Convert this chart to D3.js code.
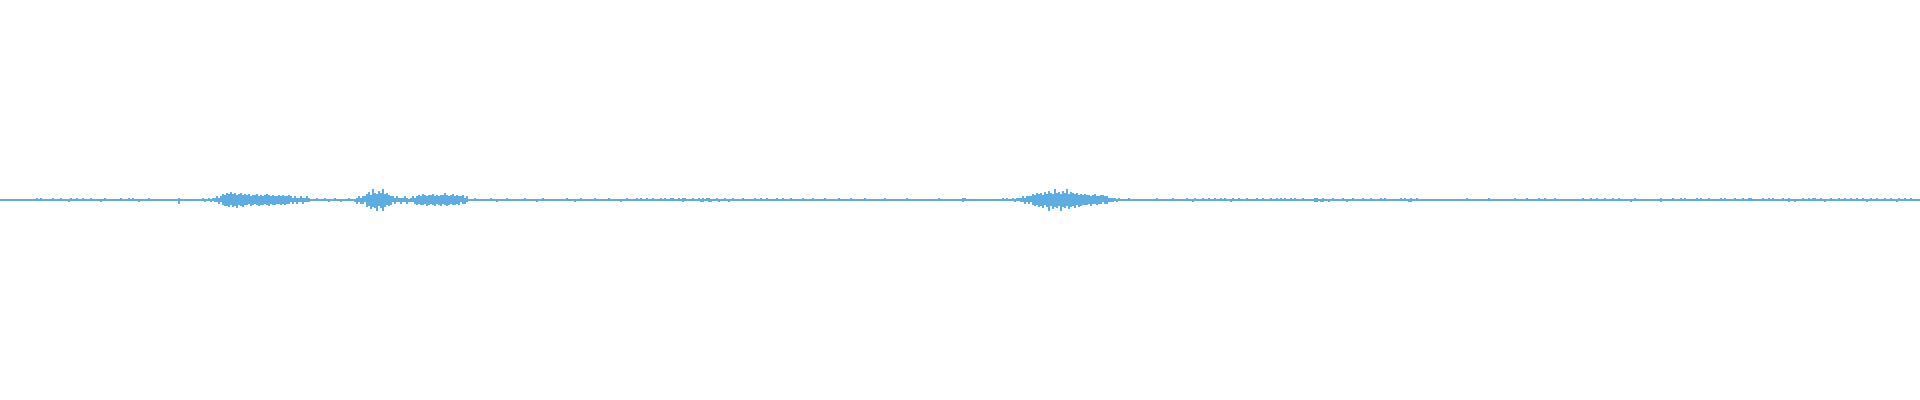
<!DOCTYPE html>
<html>
<head>
<meta charset="utf-8">
<script src="https://cdn.jsdelivr.net/npm/d3@7"></script>
<style>
html,body{margin:0;padding:0;background:#fff;overflow:hidden}
svg{display:block}
</style>
</head>
<body>
<svg id="chart" width="1920" height="400"></svg>
<script>
// Waveform peaks (upper envelope), one value per 2px column, in sample units
const upperPeaks = [
1,1,1,1,1,1,1,1,1,1,1,1,1,1,1,1,1,1,2,1,2,1,1,1,1,1,2,1,1,1,2,1,1,1,1,2,1,1,2,1,
1,2,1,1,1,2,1,1,1,1,1,1,2,1,1,1,1,1,1,1,2,1,1,1,2,1,2,1,1,1,1,1,1,1,2,1,1,1,1,1,
1,1,1,1,1,1,1,1,1,2,1,1,1,1,1,1,1,1,1,1,1,2,1,1,2,1,2,2,3,2,3,5,4,6,5,7,5,6,4,5,
6,4,5,4,5,3,4,4,5,3,4,3,4,5,4,3,4,3,3,4,3,4,3,3,4,3,2,3,2,2,3,2,2,3,2,1,1,1,2,1,
1,1,2,1,1,1,1,2,1,1,1,1,1,1,2,1,1,1,2,3,2,3,3,5,7,4,9,6,5,8,6,9,5,6,4,3,3,2,3,2,
2,2,3,2,1,2,3,2,3,4,3,5,4,3,4,4,5,3,4,3,4,4,6,4,3,4,5,3,4,3,3,4,2,3,1,1,1,2,1,1,
1,1,1,1,1,2,1,1,1,1,1,1,1,2,1,1,1,1,1,1,1,1,2,1,1,1,1,1,1,1,1,2,1,1,1,1,1,1,1,1,
1,1,1,2,1,1,1,1,1,1,2,1,1,1,1,1,1,2,1,1,1,1,1,1,2,1,1,1,1,1,1,1,1,2,1,1,1,1,2,1,
2,1,1,2,1,1,2,1,1,1,2,1,2,1,1,2,2,1,1,2,1,2,2,1,1,1,2,1,1,2,1,2,1,2,2,1,1,1,2,1,
1,1,2,1,1,1,2,1,1,1,1,2,1,1,1,1,1,2,1,1,2,1,1,2,1,1,1,1,2,1,1,2,1,1,1,2,1,1,1,1,
1,2,1,1,1,1,2,1,1,1,1,1,2,1,1,1,1,1,1,2,1,1,1,1,1,2,1,1,1,1,1,1,2,1,1,1,1,1,1,1,
1,1,2,1,1,1,1,1,1,1,1,1,1,2,1,1,1,1,1,1,1,1,1,1,1,1,1,1,1,2,1,1,1,1,1,1,1,1,1,1,
1,2,2,1,1,1,1,1,1,1,1,1,1,1,1,1,1,1,1,1,1,2,1,2,1,1,2,1,2,2,2,3,2,3,3,3,5,4,6,5,
6,4,7,5,8,6,5,9,6,7,5,8,6,9,5,7,6,5,6,4,5,4,5,4,4,3,4,5,3,3,4,4,3,3,2,2,2,2,1,2,
1,1,1,1,2,1,1,1,1,1,1,1,1,1,1,1,1,1,2,1,1,1,1,1,1,1,2,1,1,1,1,1,1,2,1,1,1,2,1,1,
1,2,1,1,2,1,1,2,1,1,2,1,2,1,1,1,2,1,1,2,1,1,1,2,1,1,1,1,2,1,1,2,1,1,1,2,1,1,2,1,
2,1,2,1,1,2,1,2,1,1,1,2,1,1,1,1,1,2,2,1,1,2,1,1,1,1,2,1,1,1,1,2,1,1,1,1,2,1,1,1,
1,2,1,1,1,2,1,1,1,1,2,1,2,1,1,1,1,1,1,1,2,1,2,1,1,2,1,1,2,1,1,1,1,1,1,1,1,1,1,1,
1,1,1,1,1,1,1,1,1,1,1,1,1,2,1,1,1,1,1,1,1,1,1,1,2,1,1,1,1,1,1,1,1,1,1,1,1,2,1,1,
1,1,1,2,1,1,1,1,1,2,1,1,2,1,1,1,1,2,1,1,1,1,1,1,1,1,1,1,1,1,1,2,1,1,1,2,1,1,2,1,
1,1,2,1,1,1,2,1,1,2,1,1,1,1,1,1,1,2,1,1,1,1,1,1,1,1,1,1,1,1,2,1,1,1,1,1,2,1,1,1,
2,1,2,1,1,1,1,1,2,1,2,1,1,1,2,1,1,1,1,1,2,1,2,1,1,1,1,2,1,1,1,2,1,1,2,2,1,1,1,1,
1,2,1,1,2,1,2,1,1,1,1,2,1,1,2,1,1,1,1,1,1,2,1,1,2,1,2,2,1,1,2,1,1,1,1,2,1,1,1,2,
1,1,2,1,1,2,1,1,2,1,1,2,1,1,1,2,1,1,2,1,1,1,2,1,1,2,1,1,1,2,1,1,2,1,1,2,1,1,1,1
];
// Waveform troughs (lower envelope, magnitude), one value per 2px column
const lowerPeaks = [
1,1,1,1,1,1,1,1,1,1,1,1,1,1,1,1,1,1,1,1,1,1,1,1,1,1,1,1,1,1,1,1,1,1,2,1,1,1,1,1,
1,1,1,1,1,1,1,1,1,1,2,1,1,1,1,1,1,1,1,1,1,1,1,1,1,1,1,1,1,2,1,1,1,1,1,1,1,1,1,1,
1,1,1,1,1,1,1,1,1,3,1,1,1,1,1,1,1,1,1,1,1,1,2,1,1,2,1,2,2,3,2,4,5,5,6,4,6,5,7,4,
5,6,4,4,3,5,4,3,4,5,4,4,3,4,5,3,4,4,3,3,4,3,4,3,3,2,3,2,3,2,2,3,2,2,2,1,1,1,1,1,
1,1,1,1,2,1,1,1,1,1,2,1,1,1,1,1,1,2,3,2,3,3,2,6,5,8,6,7,9,5,7,9,6,4,5,4,2,3,2,2,
3,2,2,3,2,2,2,3,4,3,4,4,3,5,4,3,4,5,3,4,5,3,4,5,4,3,4,4,3,4,2,3,3,2,1,1,1,1,1,1,
1,1,1,1,1,1,1,1,2,1,1,1,1,1,1,1,1,1,1,1,1,1,1,1,1,1,1,1,2,1,1,1,1,1,1,1,1,1,1,1,
1,1,1,1,1,1,1,2,1,1,1,1,1,1,1,1,1,1,1,1,1,1,1,1,1,1,1,1,1,1,2,1,1,1,1,1,1,1,1,1,
1,1,1,1,1,1,1,1,1,1,1,1,1,1,1,1,1,1,1,1,1,2,1,1,1,1,1,1,1,1,2,2,1,1,2,2,1,1,1,2,
1,1,1,1,2,1,1,1,1,1,1,1,1,1,1,1,1,1,1,1,1,1,1,1,1,1,1,1,1,1,1,1,1,1,1,1,1,1,1,1,
1,1,1,1,1,1,1,1,1,1,1,1,1,1,1,1,1,1,1,1,1,1,1,1,1,1,1,1,1,1,1,1,1,1,1,1,1,1,1,1,
1,1,1,1,1,1,1,1,1,1,1,1,1,1,1,1,1,1,1,1,1,1,1,1,1,1,1,1,1,1,1,1,1,1,1,1,1,1,1,1,
1,2,1,1,1,1,1,1,1,1,1,1,1,1,1,1,1,1,1,1,1,1,1,1,1,1,1,2,1,1,2,2,3,2,3,2,4,5,4,6,
5,7,4,6,9,5,8,6,7,5,9,6,7,5,8,6,5,7,4,6,5,4,4,4,3,5,3,3,4,3,3,2,3,3,2,2,2,1,2,1,
1,1,1,1,1,1,1,1,1,1,1,1,1,1,1,1,1,1,1,1,1,1,1,1,1,1,1,1,1,1,1,1,1,1,1,1,2,1,1,1,
1,1,1,1,1,1,1,1,1,1,1,1,1,1,1,2,1,1,1,1,1,1,1,1,1,1,1,1,1,1,1,1,1,1,1,1,1,1,1,1,
1,1,1,1,1,1,1,1,1,1,1,1,1,1,1,1,1,2,2,1,2,2,1,1,2,1,1,1,1,1,1,1,1,2,1,1,1,1,1,1,
1,1,1,1,1,1,1,1,1,1,1,1,1,1,1,1,1,1,1,1,1,1,1,1,2,2,1,1,1,1,1,1,1,1,1,1,1,1,1,1,
1,1,1,1,1,1,1,1,1,1,1,1,1,1,1,1,1,1,1,1,1,1,1,1,1,1,1,1,1,1,1,1,1,1,1,1,1,1,1,1,
1,1,1,1,1,1,1,1,1,1,1,1,1,1,1,1,1,1,1,1,1,1,1,1,1,1,1,1,1,1,1,1,1,1,1,1,1,1,1,1,
1,1,1,1,1,1,1,1,1,1,1,1,1,1,1,2,1,1,1,1,1,1,1,1,1,1,1,1,1,1,2,1,1,1,1,1,1,1,1,1,
1,1,1,1,1,1,1,1,1,1,1,1,1,1,1,1,1,1,1,1,1,1,1,1,1,1,1,1,1,1,1,1,1,1,1,1,1,1,1,1,
1,1,1,1,1,1,1,1,1,1,1,1,1,1,2,1,1,2,1,1,1,1,1,1,1,1,1,1,1,1,1,1,2,1,1,1,1,1,1,1,
1,1,1,1,1,1,1,1,1,1,1,1,1,2,1,1,1,1,1,1,1,1,1,1,1,1,1,1,2,1,1,1,1,1,1,1,1,1,1,1
];
const amplitudeRange = [-170, 170];

const W = 1920, H = 400;
const svg = d3.select("#chart");
const n = upperPeaks.length;
const x = d3.scaleLinear().domain([0, n]).range([0, W]);
const y = d3.scaleLinear().domain(amplitudeRange).range([H, 0]);

const data = upperPeaks.map((u, i) => ({ i, u, l: lowerPeaks[i] }));

svg.append("g")
  .attr("fill", "#5dade2")
  .attr("shape-rendering", "crispEdges")
  .selectAll("rect")
  .data(data)
  .join("rect")
  .attr("x", d => x(d.i))
  .attr("width", d => x(d.i + 1) - x(d.i))
  .attr("y", d => y(d.u))
  .attr("height", d => y(-d.l) - y(d.u));
</script>
</body>
</html>
